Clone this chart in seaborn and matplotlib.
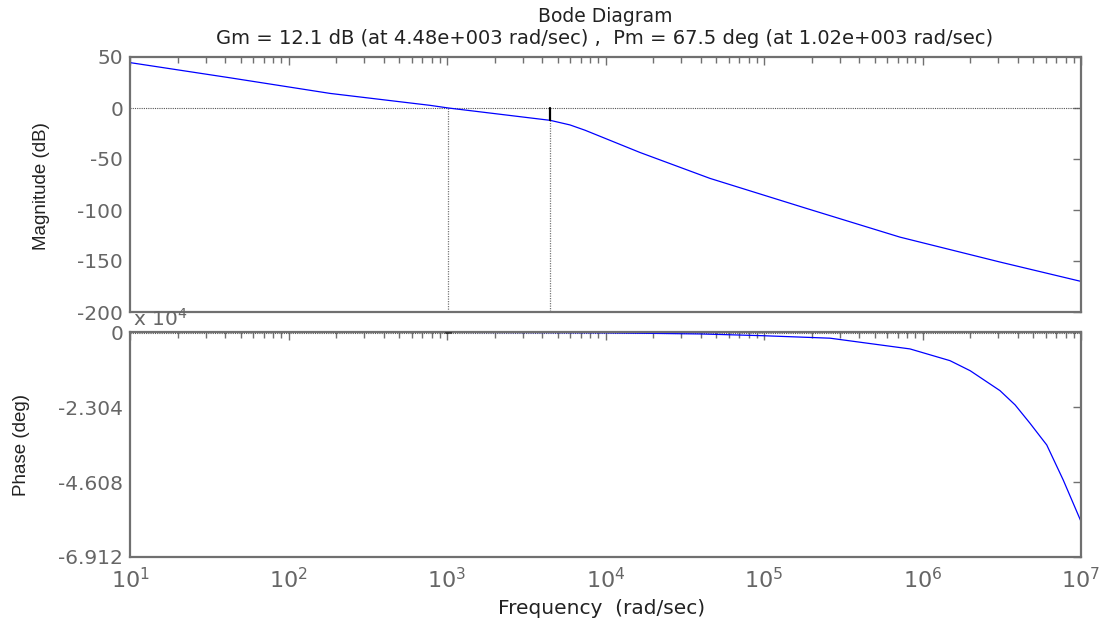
import numpy as np
import pandas as pd
import matplotlib
matplotlib.use("Agg")
import matplotlib.pyplot as plt
import seaborn as sns
from matplotlib.ticker import LogLocator, FixedLocator, NullFormatter

# ---- data ----
mag_freq = [10, 42.8, 183, 782, 1020, 4480, 5970, 7430, 16500, 45600,
            186700, 721000, 3.08e6, 1e7]
mag_db = [44.5, 29.6, 14.3, 2.6, 0.0, -12.1, -16.6, -21.8, -43.6, -69.0,
          -98.6, -126.6, -151.0, -170.0]

phase_freq = [10, 1020, 4480, 1e4, 4e4, 98600, 2.61e5, 8.34e5, 1.49e6, 2.0e6,
              3.08e6, 3.84e6, 4.76e6, 5.65e6, 6.08e6, 7.73e6, 1e7]
phase_deg = [-90, -112.5, -180, -250, -600, -1140, -1900, -5200, -8800, -11900,
             -18000, -22400, -28000, -32700, -34700, -45500, -58200]

gm_db, gm_freq = 12.1, 4.48e3
pm_deg, pm_freq = 67.5, 1.02e3

mag_yticks = [50, 0, -50, -100, -150, -200]
phase_yticks = [0, -23040, -46080, -69120]
phase_ytick_labels = ["0", "-2.304", "-4.608", "-6.912"]
xtick_vals = [1e1, 1e2, 1e3, 1e4, 1e5, 1e6, 1e7]

sns.set_style("white")
plt.rcParams['font.family'] = ['DejaVu Sans']

W, H = 1103, 622
fig = plt.figure(figsize=(W / 100, H / 100), dpi=100)
L, R = 130 / W, 1081 / W
ax1 = fig.add_axes([L, 1 - 312 / H, R - L, (312 - 57) / H])
ax2 = fig.add_axes([L, 1 - 557 / H, R - L, (557 - 332) / H])

mag_df = pd.DataFrame({"f": mag_freq, "m": mag_db})
ph_df = pd.DataFrame({"f": phase_freq, "p": phase_deg})

frame_col = "#707070"
tick_col = "#666666"

# margin reference lines
ax1.axhline(0, color="#555555", lw=0.8, ls=(0, (1, 1)), zorder=1)
ax1.plot([pm_freq, pm_freq], [0, -200], color="#777777", lw=0.9, ls=(0, (1, 1)), zorder=1)
ax1.plot([gm_freq, gm_freq], [-gm_db, -200], color="#777777", lw=0.9, ls=(0, (1, 1)), zorder=1)
ax1.plot([gm_freq, gm_freq], [0, -gm_db], color="black", lw=1.6, zorder=3)

sns.lineplot(data=mag_df, x="f", y="m", ax=ax1, color="#0000ff", lw=0.9,
             estimator=None, sort=False, zorder=2)

ax2.axhline(-180, color="#555555", lw=0.8, ls=(0, (1, 1)), zorder=1)
sns.lineplot(data=ph_df, x="f", y="p", ax=ax2, color="#0000ff", lw=0.9,
             estimator=None, sort=False, zorder=2)
ax2.plot([pm_freq, pm_freq], [-180, -180 + pm_deg], color="black", lw=5,
         solid_capstyle="butt", zorder=3)

for ax in (ax1, ax2):
    ax.set_xscale("log")
    ax.set_xlim(10, 1e7)
    ax.set_xlabel("")
    ax.set_ylabel("")
    for s in ax.spines.values():
        s.set_color(frame_col)
        s.set_linewidth(1.6)
    ax.xaxis.set_major_locator(FixedLocator(xtick_vals))
    ax.xaxis.set_minor_locator(LogLocator(base=10, subs=np.arange(2, 10), numticks=20))
    ax.tick_params(axis="both", which="both", direction="in", top=True, right=True,
                   colors=frame_col, labelcolor=tick_col, labelsize=14.5)
    ax.tick_params(axis="both", which="major", length=6, width=1)
    ax.tick_params(axis="x", which="minor", length=4, width=1)
    ax.tick_params(axis="y", which="major", pad=5)

ax1.set_ylim(-200, 50)
ax1.set_yticks(mag_yticks)
ax1.set_yticklabels([str(v) for v in mag_yticks])
ax1.xaxis.set_major_formatter(NullFormatter())
ax1.xaxis.set_minor_formatter(NullFormatter())

ax2.set_ylim(-69120, 0)
ax2.set_yticks(phase_yticks)
ax2.set_yticklabels(phase_ytick_labels)
ax2.set_xticks(xtick_vals)
ax2.set_xticklabels([r"$\mathregular{10^{%d}}$" % int(np.log10(v)) for v in xtick_vals],
                    fontsize=16)
ax2.xaxis.set_minor_formatter(NullFormatter())
ax2.tick_params(axis="x", which="major", pad=7)

fig.text(133 / W, 1 - 319 / H, r"x $\mathregular{10^{4}}$", color=tick_col,
         fontsize=14.5, ha="left", va="center")

lab = ['Liberation Sans', 'DejaVu Sans']
fig.text(42 / W, 1 - 186 / H, "Magnitude (dB)", rotation=90, ha="center", va="center",
         fontsize=13.5, family=lab, color="#222222")
fig.text(22 / W, 1 - 445 / H, "Phase (deg)", rotation=90, ha="center", va="center",
         fontsize=13.5, family=lab, color="#222222")
fig.text(602 / W, 1 - 608 / H, "Frequency  (rad/sec)", ha="center", va="center",
         fontsize=14.5, color="#222222")
fig.text(605 / W, 1 - 16 / H, "Bode Diagram", ha="center", va="center",
         fontsize=13.5, color="#222222")
fig.text(605 / W, 1 - 38 / H,
         "Gm = 12.1 dB (at 4.48e+003 rad/sec) ,  Pm = 67.5 deg (at 1.02e+003 rad/sec)",
         ha="center", va="center", fontsize=14, color="#222222")

fig.savefig("out.png", dpi=100)
